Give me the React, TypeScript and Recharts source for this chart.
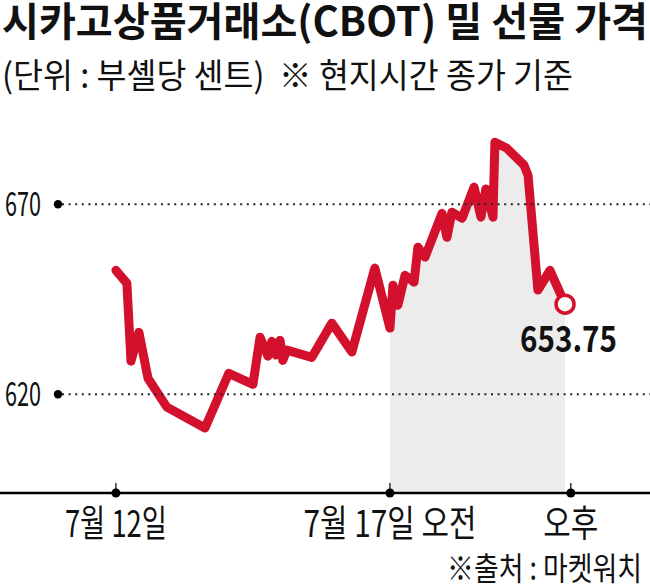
import React from "react";
import { ComposedChart, Line, Area, XAxis, YAxis } from "recharts";

// time index: 0 = 7월 12일, 100 = 7월 17일 오전, 166 = 오후
const times = [0, 4.0, 5.5, 8.4, 11.7, 18.6, 32.5, 41.2, 50, 52.6, 55.5, 56.9, 58.4, 59.9, 60.9, 62.4, 71.5, 78.8, 86.1, 94.5, 100, 101.1, 102.9, 105.5, 108.8, 110.2, 112.8, 119, 120.8, 122.6, 126.3, 130.7, 133.2, 135, 137.6, 138.3, 142.7, 148.9, 150.4, 154, 158.4, 163.9];
const prices = [652.6, 649.2, 628.7, 636.3, 624.2, 616.6, 611.1, 625.5, 622.6, 635, 630, 633.9, 630.3, 634.2, 628.9, 631.6, 629.7, 638.7, 631.1, 653.2, 637.4, 648.7, 643.4, 651.3, 649.5, 658.7, 656.1, 667.6, 661.3, 667.9, 666.3, 674.5, 666.6, 674, 666.6, 686.3, 684.7, 680.3, 677.6, 647.4, 652.6, 643.7];
const sessionStart = 100;
const xTicks = [0, 100, 166];
const xTickLabels = ["7월 12일", "7월 17일 오전", "오후"];
const xTickLengths = [102, 173, 55];
const yTicks = [620, 670];
const lastLabel = "653.75";

const title = "시카고상품거래소(CBOT) 밀 선물 가격";
const subtitle = "(단위 : 부셸당 센트)  ※ 현지시간 종가 기준";
const source = "※출처 : 마켓워치";

const data = times.map((t, i) => ({
  t,
  price: prices[i],
  session: t >= sessionStart ? prices[i] : null,
}));

const RED = "#d3112d";
const FONT = "'Noto Sans CJK KR', 'Noto Sans', sans-serif";

const XTick = (props: any) => {
  const { x, y, payload } = props;
  const idx = xTicks.indexOf(payload.value);
  return (
    <g>
      <line x1={x} x2={x} y1={y - 10} y2={y} stroke="#000" strokeWidth={1.2} />
      <circle cx={x} cy={y} r={4.5} fill="#000" />
      <text
        x={x}
        y={y + 44}
        textAnchor="middle"
        fontFamily={FONT}
        fontSize={37}
        fill="#111"
        textLength={xTickLengths[idx]}
        lengthAdjust="spacingAndGlyphs"
      >
        {xTickLabels[idx]}
      </text>
    </g>
  );
};

const YTick = (props: any) => {
  const { y, payload } = props;
  return (
    <g>
      <line x1={62} x2={650} y1={y} y2={y} stroke="#222" strokeWidth={2} strokeDasharray="2 4.6" />
      <circle cx={58} cy={y} r={4.2} fill="#000" />
      <text
        x={5}
        y={y + 12}
        fill="#111"
        textLength={36}
        lengthAdjust="spacingAndGlyphs"
        style={{ fontFamily: FONT, fontSize: 34 }}
      >
        {String(payload.value)}
      </text>
    </g>
  );
};

const LastDot = (props: any) => {
  const { cx, cy, index } = props;
  if (index !== data.length - 1) return <g key={`d${index}`} />;
  return (
    <g key={`d${index}`}>
      <circle cx={cx} cy={cy} r={9} fill="#fff" stroke={RED} strokeWidth={3.5} />
      <text
        x={cx - 45}
        y={cy + 48}
        fontFamily={FONT}
        fontWeight={700}
        fontSize={36}
        fill="#111"
        textLength={97}
        lengthAdjust="spacingAndGlyphs"
      >
        {lastLabel}
      </text>
    </g>
  );
};

export default function App() {
  return (
    <div style={{ position: "absolute", left: 0, top: 0, width: 650, height: 588, background: "#fff" }}>
      <ComposedChart
        width={650}
        height={588}
        data={data}
        margin={{ top: 120.6, right: 0, bottom: 0, left: 0 }}
      >
        <XAxis
          dataKey="t"
          type="number"
          domain={[-42.3, 194.9]}
          allowDataOverflow
          ticks={xTicks}
          tick={<XTick />}
          tickLine={false}
          tickSize={0}
          tickMargin={0}
          height={95}
          axisLine={{ stroke: "#000", strokeWidth: 2.5 }}
          interval={0}
        />
        <Area
          dataKey="session"
          type="linear"
          stroke="none"
          fill="#ececec"
          fillOpacity={1}
          isAnimationActive={false}
          connectNulls={false}
          dot={false}
          activeDot={false}
        />
        <YAxis
          type="number"
          domain={[594, 692]}
          allowDataOverflow
          ticks={yTicks}
          mirror
          width={60}
          tick={<YTick />}
          tickLine={false}
          axisLine={false}
          interval={0}
        />
        <Line
          dataKey="price"
          type="linear"
          stroke={RED}
          strokeWidth={9}
          strokeLinejoin="round"
          strokeLinecap="round"
          dot={<LastDot />}
          activeDot={false}
          isAnimationActive={false}
        />
      </ComposedChart>
      <svg
        width={650}
        height={588}
        style={{ position: "absolute", left: 0, top: 0, pointerEvents: "none" }}
      >
        <text
          x={2}
          y={36}
          fontFamily={FONT}
          fontWeight={700}
          fontSize={40}
          fill="#111"
          textLength={646}
          lengthAdjust="spacingAndGlyphs"
        >
          {title}
        </text>
        <text
          x={2}
          y={88}
          fontFamily={FONT}
          fontSize={34}
          fill="#111"
          textLength={571}
          lengthAdjust="spacingAndGlyphs"
          style={{ whiteSpace: "pre" }}
        >
          {subtitle}
        </text>
        <text
          x={447}
          y={580}
          fontFamily={FONT}
          fontSize={32}
          fill="#111"
          textLength={195}
          lengthAdjust="spacingAndGlyphs"
        >
          {source}
        </text>
      </svg>
    </div>
  );
}
